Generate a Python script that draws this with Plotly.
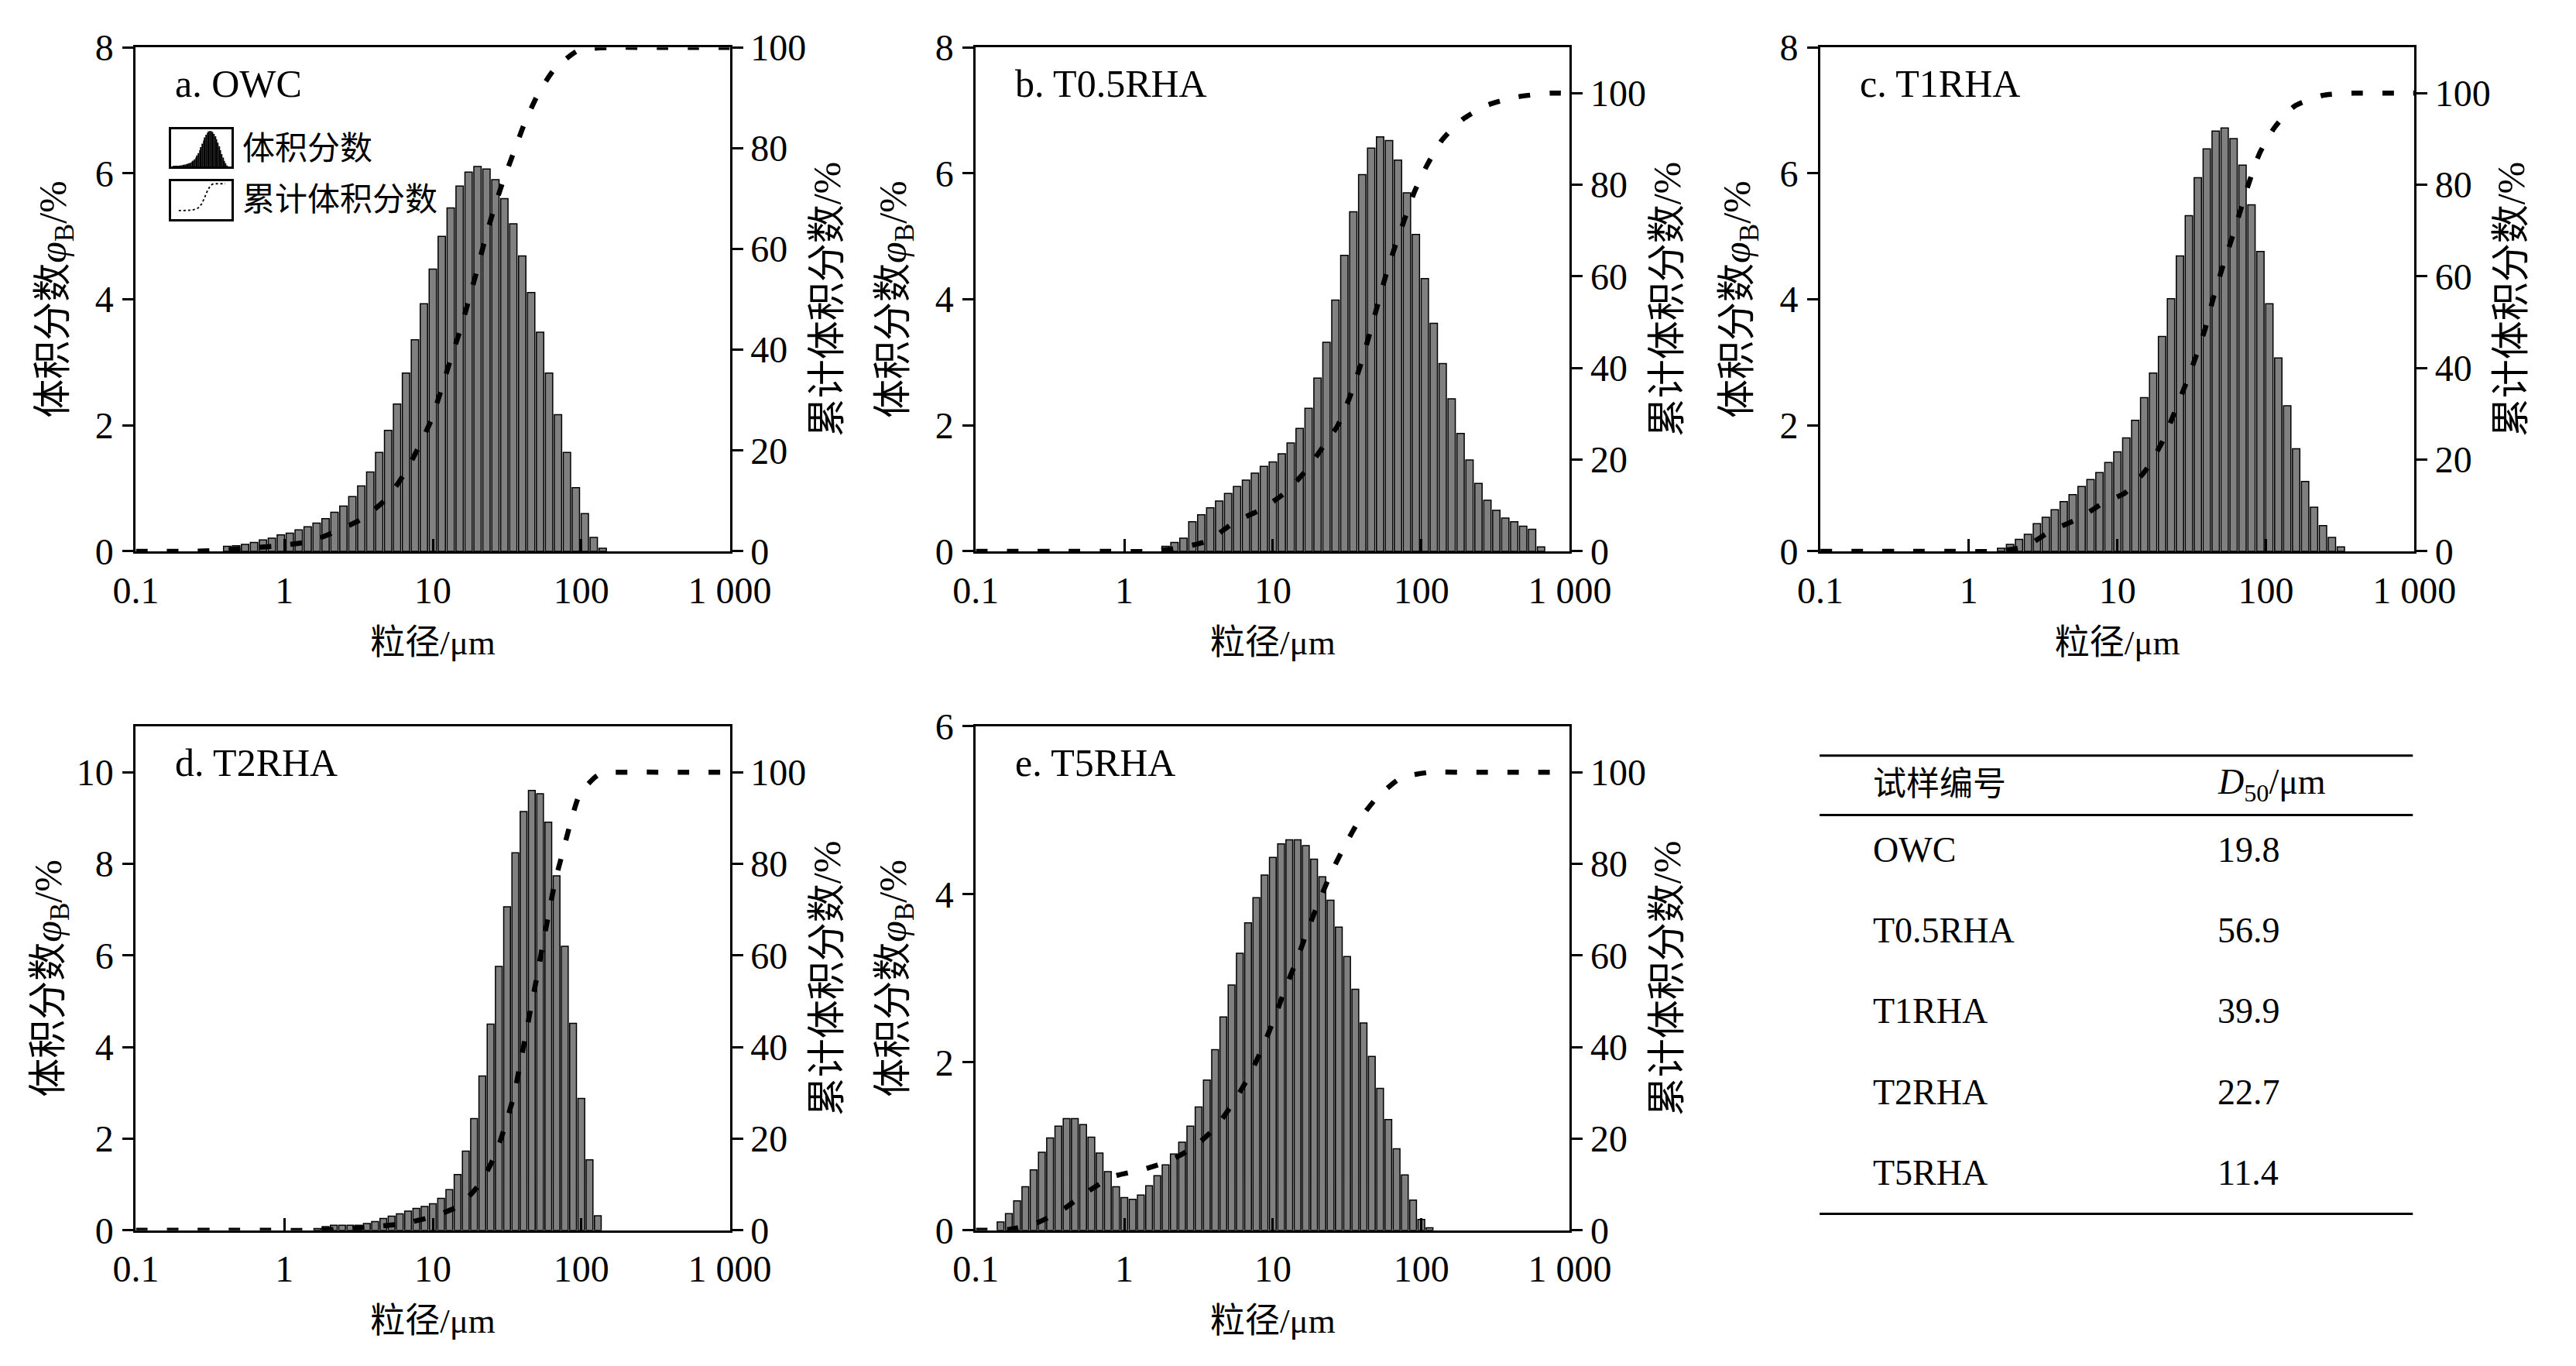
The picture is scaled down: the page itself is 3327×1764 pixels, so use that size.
import numpy as np
import plotly.graph_objects as go

W, H = 3327, 1764
FONT = 'Liberation Serif, Noto Sans CJK SC'

# analyser channels: geometric grid, one channel centred on 10 um
def channels(first, count, ratio):
    return 10 * ratio ** (first + np.arange(count))

def ax(letter, n):
    # plotly wants 'x' / 'y' for the first axis, not 'x1'
    return letter if n == 1 else f'{letter}{n}'

R5 = 2 ** 0.2          # a, b, c : 2^(1/5) channel ratio
R18 = 10 ** (1 / 18)   # d, e    : 18 channels per decade

## volume fraction per channel, %
a_vol = [0.08, 0.09, 0.11, 0.14, 0.18, 0.21, 0.26, 0.29, 0.34, 0.39, 0.45, 0.52, 0.62, 0.72, 0.87,
         1.04, 1.26, 1.57, 1.92, 2.34, 2.83, 3.36, 3.93, 4.48, 5.00, 5.45, 5.80, 6.02, 6.11, 6.07,
         5.90, 5.60, 5.20, 4.69, 4.11, 3.48, 2.83, 2.17, 1.57, 1.01, 0.60, 0.22, 0.05]
b_vol = [0.08, 0.14, 0.21, 0.47, 0.58, 0.69, 0.80, 0.92, 1.03, 1.13, 1.24, 1.35, 1.42, 1.55, 1.72,
         1.95, 2.27, 2.75, 3.32, 3.99, 4.70, 5.39, 5.98, 6.40, 6.58, 6.52, 6.21, 5.69, 5.03, 4.33,
         3.62, 2.98, 2.42, 1.87, 1.45, 1.08, 0.81, 0.65, 0.53, 0.47, 0.40, 0.35, 0.07]
c_vol = [0.05, 0.11, 0.19, 0.27, 0.44, 0.54, 0.66, 0.79, 0.90, 1.03, 1.14, 1.25, 1.41, 1.58, 1.80,
         2.08, 2.44, 2.83, 3.41, 4.01, 4.69, 5.33, 5.93, 6.39, 6.67, 6.72, 6.55, 6.13, 5.50, 4.76,
         3.93, 3.07, 2.31, 1.63, 1.11, 0.70, 0.41, 0.22, 0.07]
d_vol = [0.04, 0.08, 0.11, 0.11, 0.11, 0.11, 0.15, 0.19, 0.26, 0.31, 0.36, 0.42, 0.48, 0.52, 0.58,
         0.70, 0.89, 1.22, 1.73, 2.44, 3.37, 4.50, 5.76, 7.06, 8.24, 9.14, 9.60, 9.53, 8.91, 7.74,
         6.20, 4.52, 2.88, 1.54, 0.32]
e_vol = [0.10, 0.20, 0.35, 0.52, 0.72, 0.93, 1.10, 1.24, 1.33, 1.33, 1.26, 1.11, 0.92, 0.70, 0.52,
         0.39, 0.37, 0.42, 0.53, 0.65, 0.78, 0.91, 1.05, 1.24, 1.47, 1.79, 2.15, 2.54, 2.92, 3.30,
         3.66, 3.96, 4.23, 4.44, 4.60, 4.65, 4.65, 4.58, 4.42, 4.21, 3.93, 3.61, 3.26, 2.87, 2.47,
         2.07, 1.69, 1.32, 0.97, 0.66, 0.36, 0.13, 0.03]

## cumulative volume fraction, size um / %
a_cum_x = [0.1, 0.145, 0.25, 0.39, 0.61, 0.98, 1.5, 2.2, 3.4, 4.97, 6.5, 8.1, 9.8, 11.6, 13.3, 15.3,
           17.5, 19.8, 22.3, 25.6, 29.7, 34.9, 41.3, 50.9, 65.3, 95.5, 163, 246, 372, 610, 1000]
a_cum_y = [0, 0, 0, 0.3, 0.7, 1.2, 2.0, 3.9, 6.6, 10.7, 15.6, 20.9, 26.2, 32.8, 38.5, 43.9,
           50.0, 55.7, 61.5, 67.6, 73.4, 79.0, 84.8, 90.6, 95.5, 99.4, 100, 100, 100, 100, 100]
b_cum_x = [0.1, 0.2, 0.4, 0.8, 1.5, 2.36, 3.65, 5.53, 8.28, 12.1, 16.8, 22.4, 27.4, 32.9, 38.4,
           43.9, 50.2, 57.4, 65.7, 76.2, 88.9, 109, 138, 190, 279, 446, 740, 870]
b_cum_y = [0, 0, 0, 0, 0, 0.8, 2.3, 6.4, 9.1, 12.8, 17.7, 23.4, 27.5, 33.6, 40.0,
           46.4, 53.2, 60.0, 66.0, 72.0, 78.1, 84.2, 89.8, 94.3, 97.4, 99.2, 100, 100]
c_cum_x = [0.1, 0.2, 0.4, 0.8, 1.5, 2.40, 3.60, 5.50, 8.07, 11.3, 15.6, 19.7, 23.7, 28.4, 33.6,
           39.2, 44.2, 50.6, 58.6, 67.0, 76.7, 90.8, 115, 155, 240, 385, 617, 1000]
c_cum_y = [0, 0, 0, 0, 0, 1.1, 4.5, 7.2, 10.6, 12.8, 17.8, 23.4, 29.5, 35.9, 42.3,
           48.8, 55.2, 61.6, 68.0, 74.1, 80.3, 86.9, 92.6, 97.1, 99.5, 100, 100, 100]
d_cum_x = [0.1, 0.2, 0.4, 0.8, 1.5, 2.5, 4.0, 6.4, 9.9, 14.9, 20.8, 26.4, 30.6, 35.2, 38.7,
           42.3, 46.1, 51.0, 55.3, 60.4, 66.4, 73.8, 83.9, 98.0, 133, 212, 330, 511, 1000]
d_cum_y = [0, 0, 0, 0, 0, 0.3, 0.8, 1.5, 3.0, 5.3, 10.2, 16.6, 22.7, 29.5, 36.3,
           42.7, 49.2, 56.4, 62.8, 69.2, 76.0, 81.7, 88.5, 95.3, 99.6, 100, 100, 100, 100]
e_cum_x = [0.1, 0.166, 0.251, 0.376, 0.556, 0.832, 1.31, 1.99, 2.94, 4.12, 5.46, 7.00, 8.57, 10.3,
           12.2, 14.5, 17.1, 20.3, 24.3, 29.7, 37.8, 49.5, 72.6, 116, 180, 279, 446, 900]
e_cum_y = [0, 0.2, 1.5, 4.3, 8.3, 11.7, 13.2, 15.1, 18.2, 22.5, 28.0, 34.0, 40.1, 46.5,
           53.0, 59.0, 65.4, 71.5, 77.5, 83.2, 89.3, 94.2, 98.7, 100, 100, 100, 100, 100]

labels = ['a. OWC', 'b. T0.5RHA', 'c. T1RHA', 'd. T2RHA', 'e. T5RHA']

## D50 table
samples = ['OWC', 'T0.5RHA', 'T1RHA', 'T2RHA', 'T5RHA']
d50 = [19.8, 56.9, 39.9, 22.7, 11.4]

x_tickvals = [0.1, 1, 10, 100, 1000]
x_ticktext = ['0.1', '1', '10', '100', '1 000']

panels = [
    # vol,   first, ratio, cum x,   cum y,   left max, right max, x px, y px
    (a_vol, -23, R5, a_cum_x, a_cum_y, 8, 100, 141, 28),
    (b_vol, -12, R5, b_cum_x, b_cum_y, 8, 110, 1254, 28),
    (c_vol, -13, R5, c_cum_x, c_cum_y, 8, 110, 2373, 28),
    (d_vol, -14, R18, d_cum_x, d_cum_y, 11, 110, 141, 932),
    (e_vol, -33, R18, e_cum_x, e_cum_y, 6, 110, 1254, 932),
]
PW, PH = 787, 671   # plot box size, px

fig = go.Figure()
lay = dict(width=W, height=H, margin=dict(l=0, r=0, t=0, b=0),
           paper_bgcolor='white', plot_bgcolor='white', showlegend=False, bargap=0.18,
           font=dict(family=FONT, size=46, color='black'))

axis_common = dict(showgrid=False, zeroline=False, linecolor='black', linewidth=3,
                   tickcolor='black', tickwidth=3, tickfont=dict(size=48), fixedrange=True)

for i, (vol, first, ratio, cx, cy, ymax, y2max, px, py) in enumerate(panels):
    xn, yl, yr = i + 1, 2 * i + 1, 2 * i + 2
    xs, ys_l, ys_r = ax('x', xn), ax('y', yl), ax('y', yr)
    sizes = channels(first, len(vol), ratio)
    xdom = [px / W, (px + PW) / W]
    ydom = [1 - (py + PH) / H, 1 - py / H]

    fig.add_trace(go.Bar(x=np.log10(sizes), y=vol, xaxis=xs, yaxis=ys_l,
                         marker=dict(color='#808080', line=dict(color='black', width=1.5))))
    fig.add_trace(go.Scatter(x=np.log10(cx), y=cy, xaxis=xs, yaxis=ys_r, mode='lines',
                             line=dict(color='black', width=6.5, dash='15px,25px',
                                       shape='spline', smoothing=0.6)))

    lay[xs.replace('x', 'xaxis')] = dict(
        axis_common, domain=xdom, anchor=ys_l, range=[-1, 3],
        tickvals=np.log10(x_tickvals), ticktext=x_ticktext,
        ticks='inside', ticklen=16, mirror=True, ticklabelstandoff=6,
        title=dict(text='粒径/μm', font=dict(size=45), standoff=26))
    lay[ys_l.replace('y', 'yaxis')] = dict(
        axis_common, domain=ydom, anchor=xs, range=[0, ymax],
        dtick=2, ticks='outside', ticklen=14, ticklabelstandoff=2,
        title=dict(text='体积分数<i>φ</i><sub>B</sub>/%', font=dict(size=50),
                   standoff=4 if ymax > 10 else 22))
    lay[ys_r.replace('y', 'yaxis')] = dict(
        axis_common, overlaying=ys_l, side='right', anchor=xs,
        range=[0, y2max], tickvals=[0, 20, 40, 60, 80, 100],
        ticks='outside', ticklen=14,
        title=dict(text='累计体积分数/%', font=dict(size=50), standoff=10))

annotations = []
for i, lab in enumerate(labels):
    annotations.append(dict(text=lab, xref=ax('x', i + 1) + ' domain', yref=ax('y', 2 * i + 1) + ' domain',
                            x=50 / PW, y=1 - 48 / PH, xanchor='left', yanchor='middle',
                            showarrow=False, font=dict(size=50)))

## legend of panel a: two small framed icons
icon_common = dict(showgrid=False, zeroline=False, showticklabels=False, ticks='',
                   linecolor='black', linewidth=2.5, mirror=True, fixedrange=True)
icon_x = [188 / W, 268 / W]
lay['xaxis6'] = dict(icon_common, domain=icon_x, anchor='y11', range=[-0.5, 2.3])
lay['yaxis11'] = dict(icon_common, domain=[1 - 187 / H, 1 - 137 / H], anchor='x6', range=[0, 6.4])
lay['xaxis7'] = dict(icon_common, domain=icon_x, anchor='y12', range=[-1.64, 3.56])
lay['yaxis12'] = dict(icon_common, domain=[1 - 257 / H, 1 - 206 / H], anchor='x7', range=[-33, 110])
fig.add_trace(go.Bar(x=np.log10(channels(-23, len(a_vol), R5)), y=a_vol, xaxis='x6', yaxis='y11',
                     marker=dict(color='black', line=dict(width=0))))
fig.add_trace(go.Scatter(x=np.log10(a_cum_x), y=a_cum_y, xaxis='x7', yaxis='y12', mode='lines',
                         line=dict(color='black', width=1.8, dash='dot', shape='spline')))
for txt, yc in [('体积分数', 163), ('累计体积分数', 231)]:
    annotations.append(dict(text=txt, xref='paper', yref='paper', x=280 / W, y=1 - yc / H,
                            xanchor='left', yanchor='middle', showarrow=False, font=dict(size=42)))

## D50 table
tx0, tx1 = 2372 / W, 3158 / W
shapes = [dict(type='line', xref='paper', yref='paper', x0=tx0, x1=tx1, y0=1 - yy / H, y1=1 - yy / H,
               line=dict(color='black', width=3)) for yy in (971, 1050, 1581)]
col1, col2 = 2441 / W, 2897 / W
annotations.append(dict(text='试样编号', xref='paper', yref='paper', x=col1, y=1 - 1009 / H,
                        xanchor='left', yanchor='middle', showarrow=False, font=dict(size=43)))
annotations.append(dict(text='<i>D</i><sub>50</sub>/μm', xref='paper', yref='paper', x=col2,
                        y=1 - 1009 / H, xanchor='left', yanchor='middle', showarrow=False,
                        font=dict(size=46)))
for r, (s, v) in enumerate(zip(samples, d50)):
    yc = 1096 + r * 107.7
    annotations.append(dict(text=s, xref='paper', yref='paper', x=col1, y=1 - yc / H,
                            xanchor='left', yanchor='middle', showarrow=False, font=dict(size=46)))
    annotations.append(dict(text=f'{v:.1f}', xref='paper', yref='paper', x=col2, y=1 - yc / H,
                            xanchor='left', yanchor='middle', showarrow=False, font=dict(size=46)))

lay['annotations'] = annotations
lay['shapes'] = shapes
fig.update_layout(**lay)
fig.write_html('out.html')
